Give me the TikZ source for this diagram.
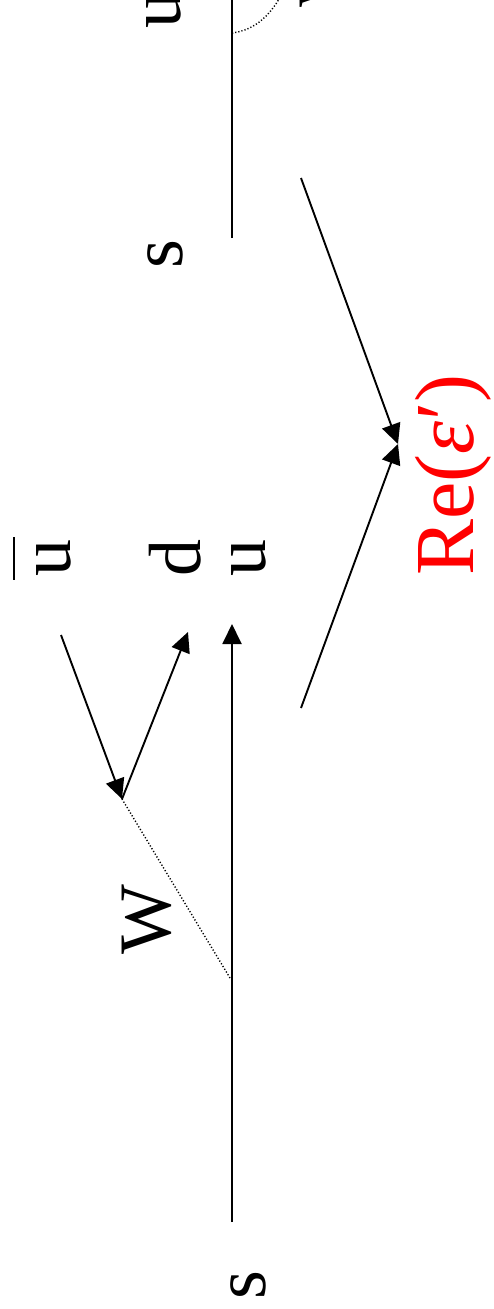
\documentclass[tikz,border=0pt]{standalone}
\usepackage{fontspec}
\setmainfont{Liberation Serif}
\usetikzlibrary{arrows.meta}
\tikzset{
  lbl/.style={rotate=90, anchor=base, inner sep=0pt, font=\fontsize{74}{80}\selectfont},
  quark/.style={line width=1.9pt},
  arr/.style={quark, -{Triangle[length=20pt,width=19pt]}},
  wline/.style={line width=1.4pt, dash pattern=on 1.2pt off 2pt},
}
\begin{document}
\begin{tikzpicture}[x=1pt,y=-1pt]
\useasboundingbox (0,0) rectangle (493,1309);
\clip (0,0) rectangle (493,1309);
% left diagram
\node[lbl] (s1) at (265,1285) {s};
\node[lbl] (u1) at (265,558) {u};
\node[lbl] (d1) at (200,558) {d};
\node[lbl] (ub1) at (70,558) {\makebox[0pt][l]{\hspace{-3pt}\raisebox{55pt}{\rule{43pt}{2pt}}}u};
\node[lbl] (W1) at (170,920) {W};
\coordinate (sA) at (232,1222);
\coordinate (uA) at (232,624);
\coordinate (wA) at (230,978);
\coordinate (V) at (122,799);
\coordinate (ubA) at (61,635);
\coordinate (dA) at (188,632);
\draw[arr] (sA) -- (uA);
\draw[wline] (wA) -- (V);
\draw[arr] (ubA) -- (V);
\draw[arr] (V) -- (dA);
% right diagram
\node[lbl] (s2) at (182,254) {s};
\node[lbl] (u2) at (180,10) {u};
\node[lbl] (W2) at (348,-27) {W};
\coordinate (sB) at (232,238);
\coordinate (uB) at (232,-60);
\coordinate (wB) at (232,33);
\coordinate (wB2) at (284,-10);
\draw[quark] (sB) -- (uB);
\draw[wline] (wB) .. controls (256,30) and (272,14) .. (wB2);
% arrows to Re(eps')
\coordinate (p1) at (301,178);
\coordinate (p2) at (301,708);
\coordinate (T) at (398,444);
\draw[arr] (p1) -- (T);
\draw[arr] (p2) -- (T);
\node[lbl, text=red, font=\fontsize{84}{90}\selectfont] (re) at (473,475) {Re({\itshape ε}′)};
\end{tikzpicture}
\end{document}
